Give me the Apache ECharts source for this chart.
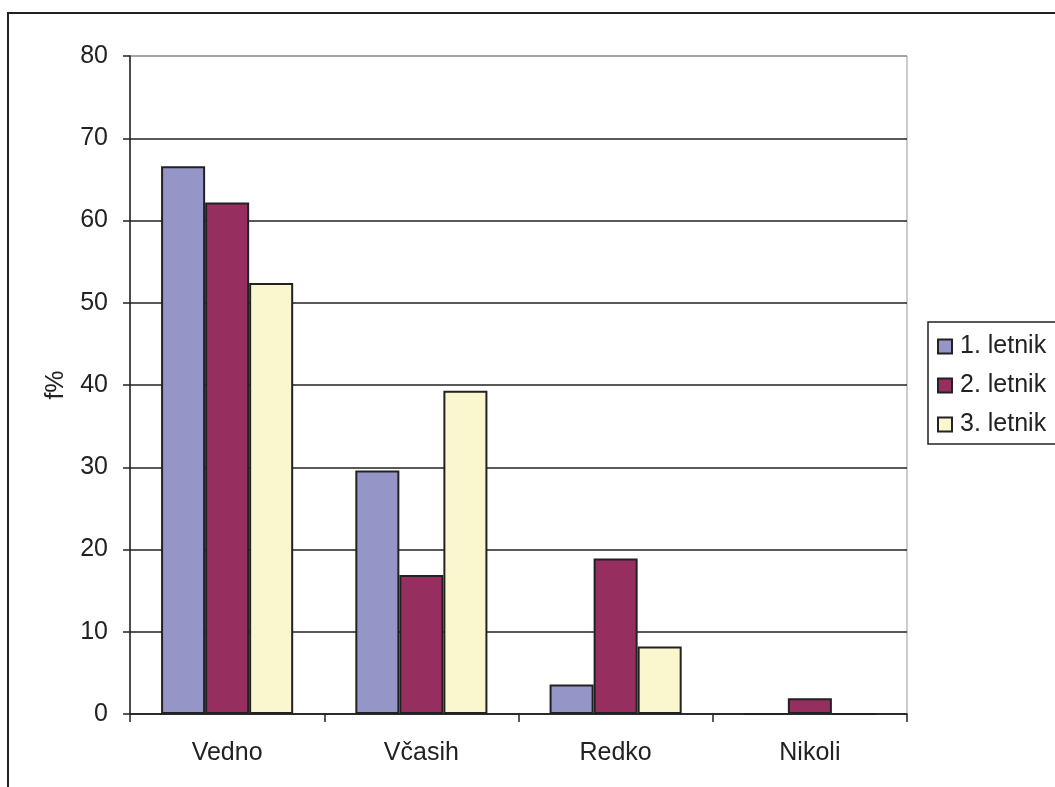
<!doctype html>
<html>
<head>
    <meta charset="utf-8">
    <script src="https://cdn.jsdelivr.net/npm/echarts@6/dist/echarts.min.js"></script>
</head>
<body style="margin: 0; background: #fff">
    <div id="container" style="width: 1055px; height: 787px"></div>
    <script type="text/javascript">
        var categories = ['Vedno', 'Včasih', 'Redko', 'Nikoli'];
        var letnik1 = [66.6, 29.6, 3.6, 0];
        var letnik2 = [62.2, 16.9, 18.9, 1.9];
        var letnik3 = [52.4, 39.3, 8.2, 0];
        var yTicks = [0, 10, 20, 30, 40, 50, 60, 70, 80];

        var myChart = echarts.init(document.getElementById('container'));
        var font = 'Liberation Sans, Arial, sans-serif';

        function bar(name, data, color) {
            return {
                name: name,
                type: 'bar',
                data: data,
                barGap: '0%',
                barCategoryGap: '32%',
                itemStyle: { color: color, borderColor: '#222', borderWidth: 2 }
            };
        }

        var option = {
            animation: false,
            backgroundColor: '#fff',
            grid: {
                left: 130, right: 148, top: 56, bottom: 73,
                show: true, borderColor: '#999', borderWidth: 1
            },
            graphic: [{
                type: 'rect',
                shape: { x: 8, y: 13, width: 1100, height: 820 },
                style: { fill: 'none', stroke: '#222', lineWidth: 2 },
                z: -1
            }],
            legend: {
                orient: 'vertical',
                left: 928, top: 322,
                padding: [12, 30, 7, 9],
                itemWidth: 14, itemHeight: 14, itemGap: 14,
                borderColor: '#222', borderWidth: 1.5,
                icon: 'rect',
                textStyle: { fontFamily: font, fontSize: 25, color: '#222', padding: [0, 0, 0, 3] },
                data: ['1. letnik', '2. letnik', '3. letnik']
            },
            xAxis: {
                type: 'category',
                data: categories,
                axisLine: { lineStyle: { color: '#222', width: 1.5 } },
                axisTick: { show: true, length: 8, lineStyle: { color: '#222', width: 1.5 } },
                axisLabel: { fontFamily: font, fontSize: 25, color: '#222', margin: 27 }
            },
            yAxis: {
                type: 'value',
                min: yTicks[0], max: yTicks[yTicks.length - 1], interval: 10,
                name: 'f%',
                nameLocation: 'middle',
                nameGap: 61,
                nameTextStyle: { fontFamily: font, fontSize: 25, color: '#222' },
                axisLine: { show: true, lineStyle: { color: '#222', width: 1.5 } },
                axisTick: { show: true, length: 7, lineStyle: { color: '#222', width: 1.5 } },
                axisLabel: { fontFamily: font, fontSize: 25, color: '#222', margin: 22 },
                splitLine: {
                    lineStyle: {
                        color: ['#222', '#222', '#222', '#222', '#222', '#222', '#222', '#222', '#999'],
                        width: 1.5
                    }
                }
            },
            series: [
                bar('1. letnik', letnik1, '#9595C8'),
                bar('2. letnik', letnik2, '#962F60'),
                bar('3. letnik', letnik3, '#FAF7CF')
            ]
        };
        myChart.setOption(option);
    </script>
</body>
</html>
